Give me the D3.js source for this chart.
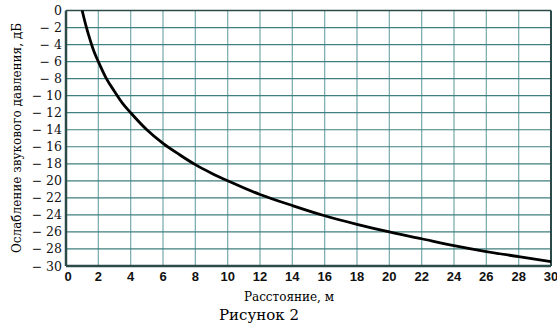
<!DOCTYPE html>
<html><head><meta charset="utf-8">
<script src="https://cdn.jsdelivr.net/npm/d3@7"></script>
<style>body{margin:0;background:#fff}svg{display:block}
.serif{font-family:"DejaVu Serif","Liberation Serif",serif}
.bold{font-family:"Liberation Sans","DejaVu Sans",sans-serif;font-weight:bold}
</style>
</head><body>
<script>
const distances = [1, 1.25, 1.5, 1.75, 2, 2.5, 3, 3.5, 4, 5, 6, 7, 8, 9, 10, 12, 14, 16, 18, 20, 22, 24, 26, 28, 30];
const attenuation = [0, -1.9, -3.5, -4.9, -6.0, -8.0, -9.5, -10.9, -12.0, -14.0, -15.6, -16.9, -18.1, -19.1, -20.0, -21.6, -22.9, -24.1, -25.1, -26.0, -26.8, -27.6, -28.3, -28.9, -29.5];
const xTicks = [0,2,4,6,8,10,12,14,16,18,20,22,24,26,28,30];
const yTicks = [0,-2,-4,-6,-8,-10,-12,-14,-16,-18,-20,-22,-24,-26,-28,-30];
const xLabel = "Расстояние, м";
const yLabel = "Ослабление звукового давления, дБ";
const caption = "Рисунок 2";

const W = 557, H = 324;
const L = 66, R = 551, T = 10.5, B = 266;
const svg = d3.select("body").append("svg").attr("width", W).attr("height", H);
const x = d3.scaleLinear().domain([0, 30]).range([L, R]);
const y = d3.scaleLinear().domain([0, -30]).range([T, B]);
const grid = "#7fb0b0";

svg.append("g").selectAll("line").data(xTicks.slice(1, -1)).join("line")
  .attr("x1", d => x(d)).attr("x2", d => x(d)).attr("y1", T).attr("y2", B)
  .attr("stroke", grid).attr("stroke-width", 1.3);
svg.append("g").selectAll("line").data(yTicks.slice(1, -1)).join("line")
  .attr("x1", L).attr("x2", R).attr("y1", d => y(d)).attr("y2", d => y(d))
  .attr("stroke", "#3f7f7f").attr("stroke-width", 1.2);

// frame
svg.append("line").attr("x1", L).attr("x2", R).attr("y1", T).attr("y2", T).attr("stroke", "#2b4a4a").attr("stroke-width", 1.5);
svg.append("line").attr("x1", R).attr("x2", R).attr("y1", T).attr("y2", B).attr("stroke", "#2b4a4a").attr("stroke-width", 2);
svg.append("line").attr("x1", L).attr("x2", L).attr("y1", T).attr("y2", B).attr("stroke", "#2b4a4a").attr("stroke-width", 2.5);
svg.append("line").attr("x1", L).attr("x2", R).attr("y1", B).attr("y2", B).attr("stroke", "#2b4a4a").attr("stroke-width", 2.5);

// y tick labels
svg.append("g").selectAll("text").data(yTicks).join("text")
  .attr("class", "serif")
  .attr("x", 62).attr("y", d => y(d) + 4.5)
  .attr("text-anchor", "end")
  .attr("font-size", 12.5).attr("fill", "#111")
  .text(d => d === 0 ? "0" : "\u2212 " + Math.abs(d));

// x tick labels
svg.append("g").selectAll("text").data(xTicks).join("text")
  .attr("class", "bold")
  .attr("x", d => x(d) + (d === 0 ? 2 : 0)).attr("y", 281)
  .attr("text-anchor", "middle")
  .attr("font-size", 13).attr("fill", "#111")
  .text(d => d);

// axis titles
svg.append("text").attr("class", "serif").attr("x", 289).attr("y", 301).attr("text-anchor", "middle")
  .attr("font-size", 12).text(xLabel);
svg.append("text").attr("class", "serif").attr("transform", "translate(21,138) rotate(-90)").attr("text-anchor", "middle")
  .attr("font-size", 12).text(yLabel);
svg.append("text").attr("class", "serif").attr("x", 259).attr("y", 320).attr("text-anchor", "middle")
  .attr("font-size", 15).text(caption);

// curve
const pts = distances.map((d, i) => [d, attenuation[i]]);
svg.append("path").datum(pts)
  .attr("d", d3.line().x(d => x(d[0])).y(d => y(d[1])).curve(d3.curveMonotoneX))
  .attr("fill", "none").attr("stroke", "#000").attr("stroke-width", 2.8);
</script>
</body></html>
